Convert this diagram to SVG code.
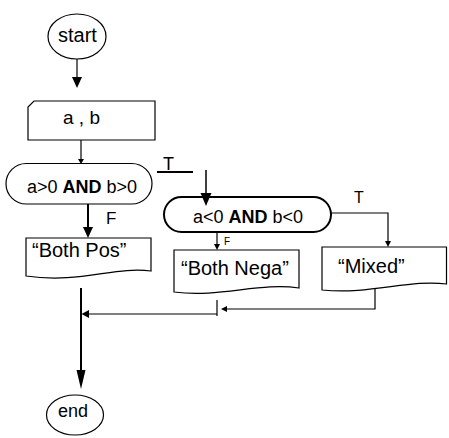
<svg xmlns="http://www.w3.org/2000/svg" width="449" height="438" viewBox="0 0 449 438">
<style>
text{font-family:"Liberation Sans",Arial,sans-serif;fill:#000}
.s{fill:#fff;stroke:#000;stroke-width:1.2}
.l{fill:none;stroke:#000;stroke-width:1.2}
.t{fill:none;stroke:#000;stroke-width:2}
.h{fill:#000;stroke:none}
</style>
<rect width="449" height="438" fill="#fff"/>
<g id="start"><ellipse class="s" cx="77" cy="36.5" rx="29" ry="22.5"/><text x="58" y="42" font-size="20">start</text></g>
<g id="input"><path class="s" d="M34,101 H155 V140 H28 V107 Z"/><text x="63" y="124" font-size="19">a , b</text></g>
<g id="cond1"><rect class="s" x="6" y="163.5" width="146" height="40.5" rx="20.25"/><text x="27" y="193" font-size="18">a&gt;0 <tspan font-weight="bold">AND</tspan> b&gt;0</text></g>
<g id="bothpos"><path class="s" d="M26,238 H151 V271 C115,266 80,284 26,276 Z"/><text x="32" y="257" font-size="20">“Both Pos”</text></g>
<g id="cond2"><rect x="164" y="197" width="167" height="35" rx="17.5" fill="#fff" stroke="#000" stroke-width="2"/><text x="193" y="223" font-size="18">a&lt;0 <tspan font-weight="bold">AND</tspan> b&lt;0</text></g>
<g id="bothnega"><path class="s" d="M174,250 H299 V288 C260,282 220,298 174,292 Z"/><text x="181" y="275" font-size="20">“Both Nega”</text></g>
<g id="mixed"><path class="s" d="M322,247 H446.5 V284 C410,279 370,295 322,290 Z"/><text x="338" y="273" font-size="20">“Mixed”</text></g>
<g id="end"><ellipse class="s" cx="75" cy="415" rx="28.5" ry="20"/><text x="58" y="417" font-size="18">end</text></g>
<g id="connectors">
<line class="l" x1="77" y1="59" x2="77" y2="80"/><path class="h" d="M72,77 L82,77 L77,88 Z"/>
<line class="l" x1="81" y1="140" x2="81" y2="160"/><path class="h" d="M78,159 L84,159 L81,164 Z"/>
<line x1="157" y1="172" x2="193" y2="172" stroke="#000" stroke-width="2"/>
<text x="163" y="170" font-size="18">T</text>
<line x1="206" y1="170" x2="206" y2="195" stroke="#000" stroke-width="1.5"/><path class="h" d="M200.5,193 L211.5,193 L206,206 Z"/>
<line class="t" x1="88" y1="204" x2="88" y2="230"/><path class="h" d="M83,227 L93,227 L88,238 Z"/>
<text x="106" y="224" font-size="17">F</text>
<line class="l" x1="217" y1="232" x2="217" y2="245"/><path class="h" d="M214,244 L220,244 L217,250 Z"/>
<text x="224" y="245" font-size="10">F</text>
<polyline class="l" points="331,213 388,213 388,242"/><path class="h" d="M385,241 L391,241 L388,247 Z"/>
<text x="354" y="203" font-size="16">T</text>
<polyline class="l" points="375,288 375,309 226,309"/><path class="h" d="M227,306 L227,312 L221,309 Z"/>
<line class="l" x1="217" y1="300" x2="217" y2="316"/>
<line class="l" x1="217" y1="314" x2="86" y2="314"/><path class="h" d="M89,310 L89,318 L81.5,314 Z"/>
<line class="t" x1="81" y1="288" x2="81" y2="374"/><path class="h" d="M76.5,370 L85.5,370 L81,389 Z"/>
</g>
</svg>
